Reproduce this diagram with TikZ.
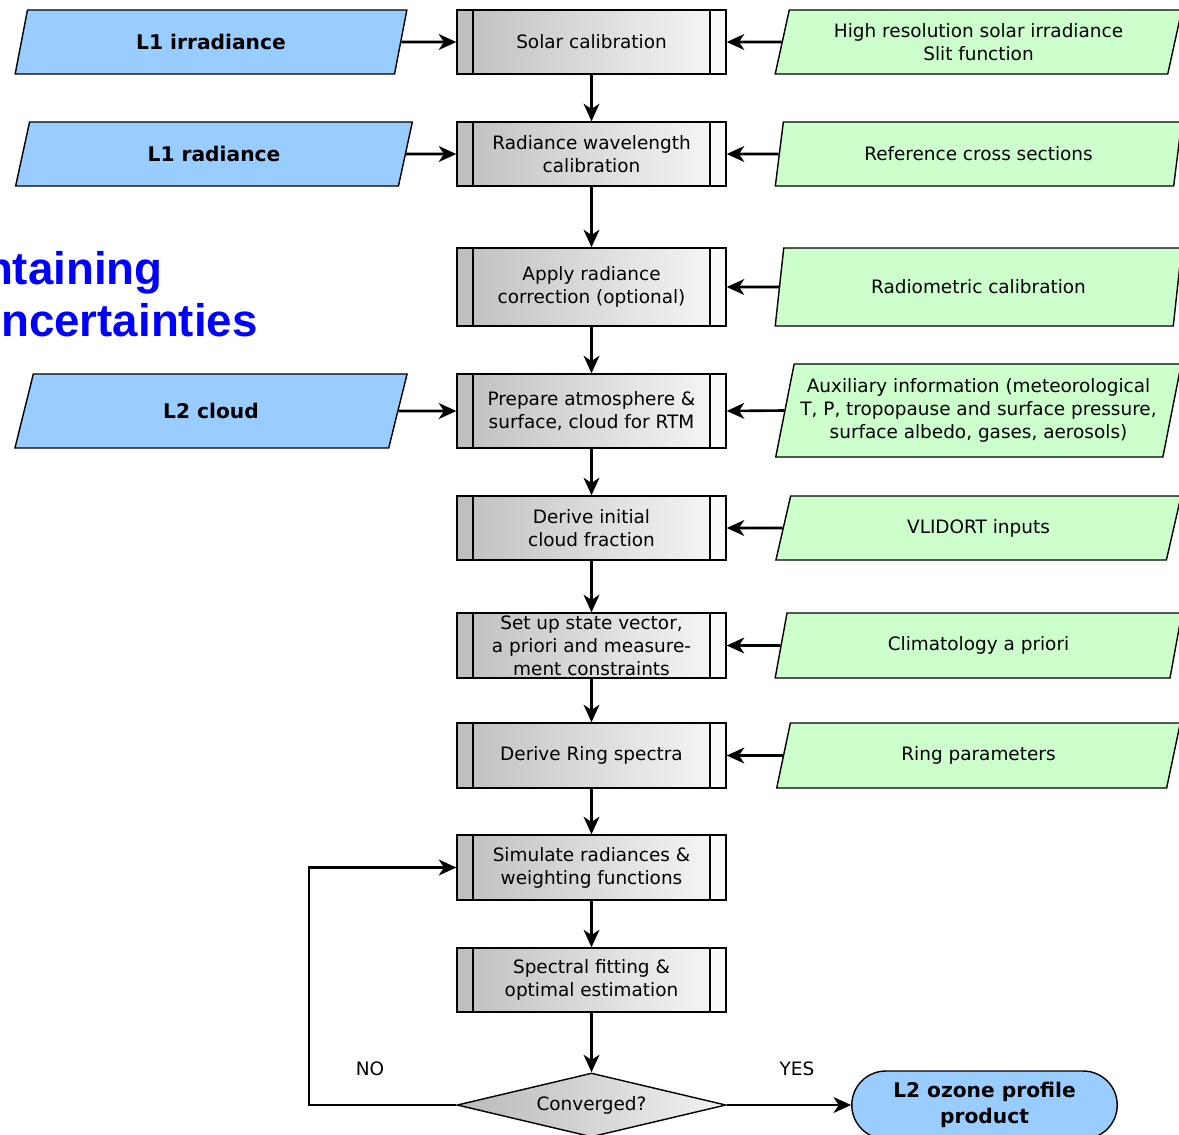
\documentclass[tikz,border=0pt]{standalone}
\usepackage{fontspec}
\setmainfont{DejaVu Sans}
\newfontfamily\arialfont{Liberation Sans}
\usetikzlibrary{arrows.meta,shapes.geometric,shapes.misc,positioning}
\definecolor{inblue}{RGB}{153,204,255}
\definecolor{ingreen}{RGB}{204,255,204}
\tikzset{
 txt/.style={font=\fontsize{10.5}{13}\selectfont, align=center},
 proc/.style={txt, draw, line width=0.8pt, left color=gray!50, right color=gray!6, minimum width=5.38cm, minimum height=1.28cm, inner sep=1pt,
  path picture={
   \fill[gray!50] (path picture bounding box.south west) rectangle ([xshift=0.32cm]path picture bounding box.north west);
   \fill[gray!4] (path picture bounding box.south east) rectangle ([xshift=-0.32cm]path picture bounding box.north east);
   \draw[line width=0.8pt] ([xshift=0.32cm]path picture bounding box.south west) -- ([xshift=0.32cm]path picture bounding box.north west);
   \draw[line width=0.8pt] ([xshift=-0.32cm]path picture bounding box.south east) -- ([xshift=-0.32cm]path picture bounding box.north east);}},
 slanted/.style={draw, line width=0.8pt, trapezium, trapezium left angle=75, trapezium right angle=105, trapezium stretches=true, minimum height=1.28cm, inner sep=1pt},
 infile/.style={slanted, fill=inblue, font=\fontsize{11.5}{14}\selectfont\bfseries, minimum width=7.88cm},
 aux/.style={slanted, txt, fill=ingreen, minimum width=8.14cm},
 decision/.style={txt, draw, line width=0.8pt, diamond, aspect=4, inner sep=0pt, left color=gray!55, right color=gray!10, minimum width=5.38cm, minimum height=1.28cm},
 product/.style={draw, line width=0.8pt, rounded rectangle, fill=inblue, align=center, font=\fontsize{11.5}{15}\selectfont\bfseries, minimum width=5.38cm, minimum height=1.36cm, inner sep=1pt},
 flow/.style={line width=1.5pt, -{Stealth[length=10pt,width=9pt,inset=3pt]}}
}
\begin{document}
\begin{tikzpicture}[x=0.02cm,y=-0.02cm]
 \useasboundingbox (0,0) rectangle (1179,1134);

 \node[proc] (solar) at (591.5,42) {Solar calibration};
 \node[proc] (wavecal) at (591.5,154) {Radiance wavelength\\calibration};
 \node[proc, minimum height=1.56cm] (radcor) at (591.5,287) {Apply radiance\\correction (optional)};
 \node[proc, minimum height=1.48cm] (prep) at (591.5,411) {Prepare atmosphere \&\\surface, cloud for RTM};
 \node[proc] (cldfrac) at (591.5,528) {Derive initial\\cloud fraction};
 \node[proc, minimum height=1.3cm] (statevec) at (591.5,645.5) {Set up state vector,\\a priori and measure-\\ment constraints};
 \node[proc, minimum height=1.3cm] (ring) at (591.5,755.5) {Derive Ring spectra};
 \node[proc, minimum height=1.3cm] (sim) at (591.5,867.5) {Simulate radiances \&\\weighting functions};
 \node[proc] (fit) at (591.5,980) {Spectral fitting \&\\optimal estimation};
 \node[decision] (conv) at (591.5,1105) {Converged?};
 \node[product] (l2o3) at (984.5,1105) {L2 ozone profile\\product};

 \node[infile] (l1irr) at (211,42) {L1 irradiance};
 \node[infile, minimum width=8cm] (l1rad) at (214,154) {L1 radiance};
 \node[infile, minimum height=1.48cm] (l2cld) at (211,411) {L2 cloud};

 \node[aux] (solspec) at (978.5,42) {High resolution solar irradiance\\Slit function};
 \node[aux] (xsec) at (978.5,154) {Reference cross sections};
 \node[aux, minimum height=1.56cm] (radiom) at (978.5,287) {Radiometric calibration};
 \node[aux, minimum height=1.86cm] (auxinfo) at (978.5,410.5) {Auxiliary information (meteorological\\T, P, tropopause and surface pressure,\\surface albedo, gases, aerosols)};
 \node[aux] (vlidort) at (978.5,528) {VLIDORT inputs};
 \node[aux, minimum height=1.3cm] (clim) at (978.5,645.5) {Climatology a priori};
 \node[aux, minimum height=1.3cm] (ringpar) at (978.5,755.5) {Ring parameters};

 \node[anchor=base east, text=blue, font=\arialfont\fontsize{26}{30}\selectfont\bfseries, inner sep=0pt] (title1) at (163,284) {ntaining};
 \node[anchor=base east, text=blue, font=\arialfont\fontsize{26}{30}\selectfont\bfseries, inner sep=0pt] (title2) at (258,336) {ncertainties};

 \draw[flow] (solar) -- (wavecal);
 \draw[flow] (wavecal) -- (radcor);
 \draw[flow] (radcor) -- (prep);
 \draw[flow] (prep) -- (cldfrac);
 \draw[flow] (cldfrac) -- (statevec);
 \draw[flow] (statevec) -- (ring);
 \draw[flow] (ring) -- (sim);
 \draw[flow] (sim) -- (fit);
 \draw[flow] (fit) -- (conv);

 \draw[flow] (l1irr.east) -- (solar.west);
 \draw[flow] (l1rad.east) -- (wavecal.west);
 \draw[flow] (l2cld.east) -- (prep.west);

 \draw[flow] (solspec.west) -- (solar.east);
 \draw[flow] (xsec.west) -- (wavecal.east);
 \draw[flow] (radiom.west) -- (radcor.east);
 \draw[flow] (auxinfo.west) -- (prep.east);
 \draw[flow] (vlidort.west) -- (cldfrac.east);
 \draw[flow] (clim.west) -- (statevec.east);
 \draw[flow] (ringpar.west) -- (ring.east);

 \coordinate (back) at (309,1105);
 \draw[flow] (conv.west) -- (back) |- (sim.west);
 \draw[flow] (conv.east) -- (l2o3.west);
 \node[txt] (no) at (370,1069) {NO};
 \node[txt] (yes) at (797,1069) {YES};
\end{tikzpicture}
\end{document}
